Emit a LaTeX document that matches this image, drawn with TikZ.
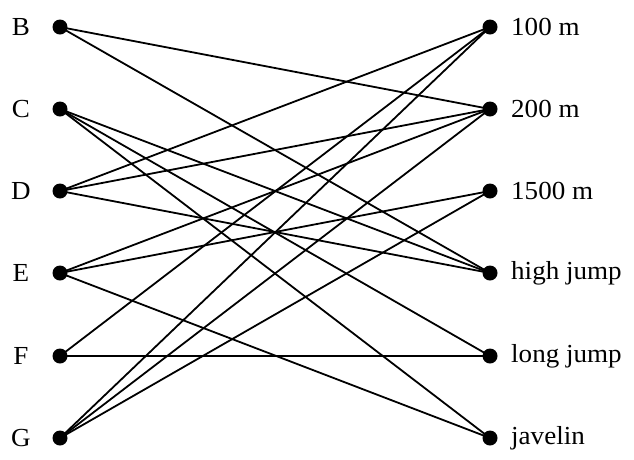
\documentclass[tikz,border=0pt]{standalone}
\usepackage{fontspec}
\setmainfont{Liberation Serif}
\begin{document}
\begin{tikzpicture}[x=1pt,y=-1pt,
  dot/.style={circle,fill=black,inner sep=0pt,minimum size=15pt},
  lbl/.style={font=\fontsize{26}{30}\selectfont,inner sep=0pt,xscale=1.04},
  edge/.style={line width=1.8pt}]
\useasboundingbox (0,0) rectangle (634,459);
\foreach \n/\y in {B/27,C/109,D/191,E/273,F/356,G/438}{
  \node[dot] (\n) at (60,\y) {};
  \node[lbl,anchor=center] (l\n) at (21,\y) {\n};
}
\node[dot] (r1) at (490,27) {};
\node[dot] (r2) at (490,109) {};
\node[dot] (r3) at (490,191) {};
\node[dot] (r4) at (490,273) {};
\node[dot] (r5) at (490,356) {};
\node[dot] (r6) at (490,438) {};
\node[lbl,anchor=west] (t1) at (511,27) {100 m};
\node[lbl,anchor=west] (t2) at (511,109) {200 m};
\node[lbl,anchor=west] (t3) at (511,191) {1500 m};
\node[lbl,anchor=west] (t4) at (511,273) {high jump};
\node[lbl,anchor=west] (t5) at (511,356) {long jump};
\node[lbl,anchor=west] (t6) at (511,438) {javelin};
\foreach \a/\b in {B/r2,B/r4,C/r4,C/r5,C/r6,D/r1,D/r2,D/r4,E/r2,E/r3,E/r6,F/r1,F/r5,G/r1,G/r2,G/r3}
  \draw[edge] (\a.center) -- (\b.center);
\end{tikzpicture}
\end{document}
